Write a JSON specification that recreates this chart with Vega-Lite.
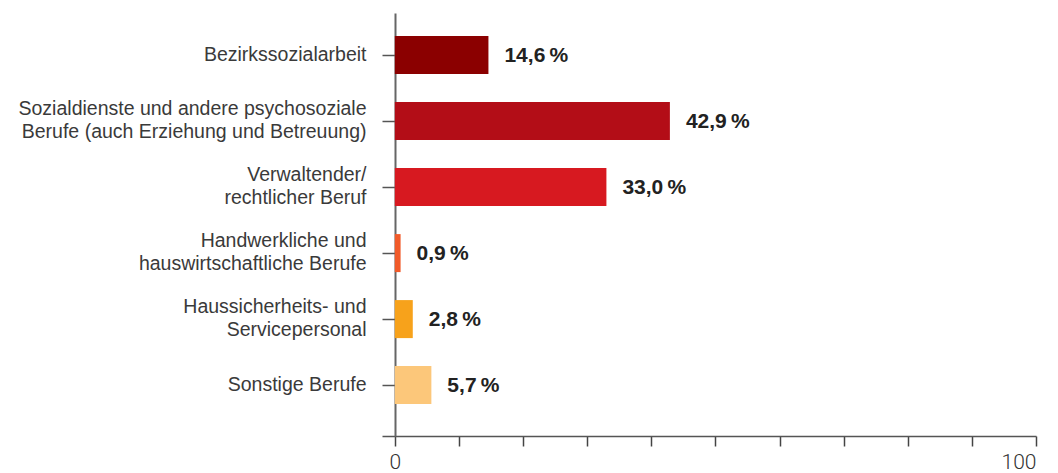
{
  "$schema": "https://vega.github.io/schema/vega-lite/v6.json",
  "width": 654,
  "height": 423,
  "autosize": {"type": "none"},
  "padding": {"left": 382, "top": 13, "right": 22, "bottom": 37},
  "background": "white",
  "config": {"view": {"stroke": null}, "font": "Liberation Sans"},
  "data": {
    "values": [
      {"beruf": "Bezirkssozialarbeit", "value": 14.6},
      {"beruf": "Sozialdienste und andere psychosoziale|Berufe (auch Erziehung und Betreuung)", "value": 42.9},
      {"beruf": "Verwaltender/|rechtlicher Beruf", "value": 33.0},
      {"beruf": "Handwerkliche und|hauswirtschaftliche Berufe", "value": 0.9},
      {"beruf": "Haussicherheits- und|Servicepersonal", "value": 2.8},
      {"beruf": "Sonstige Berufe", "value": 5.7}
    ]
  },
  "transform": [
    {"calculate": "replace(format(datum.value, '.1f'), '.', ',') + '\u2009%'", "as": "label"}
  ],
  "encoding": {
    "y": {
      "field": "beruf",
      "type": "nominal",
      "sort": null,
      "title": null,
      "scale": {"paddingInner": 0.424, "paddingOuter": 0.4167, "align": 0.42},
      "axis": {
        "offset": -13,
        "domainColor": "#666666",
        "domainWidth": 2,
        "tickColor": "#555555",
        "tickWidth": 1.5,
        "tickSize": 13,
        "labelPadding": 16,
        "labelFont": "Liberation Sans",
        "labelFontSize": 19.5,
        "labelColor": "#3a3a3a",
        "labelLineHeight": 23,
        "labelLimit": 400,
        "labelOffset": {"condition": {"test": "indexof(datum.value, '|') >= 0", "value": -12}, "value": 0},
        "labelExpr": "split(datum.label, '|')"
      }
    },
    "x": {
      "field": "value",
      "type": "quantitative",
      "title": null,
      "scale": {"domain": [-2, 100], "nice": false, "zero": false},
      "axis": {
        "values": [0, 10, 20, 30, 40, 50, 60, 70, 80, 90, 100],
        "grid": false,
        "domainColor": "#555555",
        "domainWidth": 1.5,
        "tickColor": "#444444",
        "tickWidth": 1.5,
        "tickSize": 10,
        "labelBaseline": "alphabetic",
        "labelPadding": 22,
        "labelFont": "Roboto",
        "labelFontWeight": 300,
        "labelFontSize": 21,
        "labelColor": "#333333",
        "labelExpr": "datum.value == 0 || datum.value == 100 ? datum.label : ''"
      }
    }
  },
  "layer": [
    {
      "mark": {"type": "bar"},
      "encoding": {
        "x": {"datum": 0},
        "x2": {"field": "value"},
        "color": {
          "field": "beruf",
          "type": "nominal",
          "legend": null,
          "scale": {
            "domain": [
              "Bezirkssozialarbeit",
              "Sozialdienste und andere psychosoziale|Berufe (auch Erziehung und Betreuung)",
              "Verwaltender/|rechtlicher Beruf",
              "Handwerkliche und|hauswirtschaftliche Berufe",
              "Haussicherheits- und|Servicepersonal",
              "Sonstige Berufe"
            ],
            "range": ["#8b0000", "#b30d17", "#d71920", "#f15a29", "#f7a21b", "#fcc77a"]
          }
        }
      }
    },
    {
      "mark": {"type": "text", "align": "left", "baseline": "middle", "dx": 16, "dy": 1, "fontSize": 21, "fontWeight": "bold", "font": "Liberation Sans", "color": "#222222"},
      "encoding": {
        "text": {"field": "label"}
      }
    }
  ]
}
